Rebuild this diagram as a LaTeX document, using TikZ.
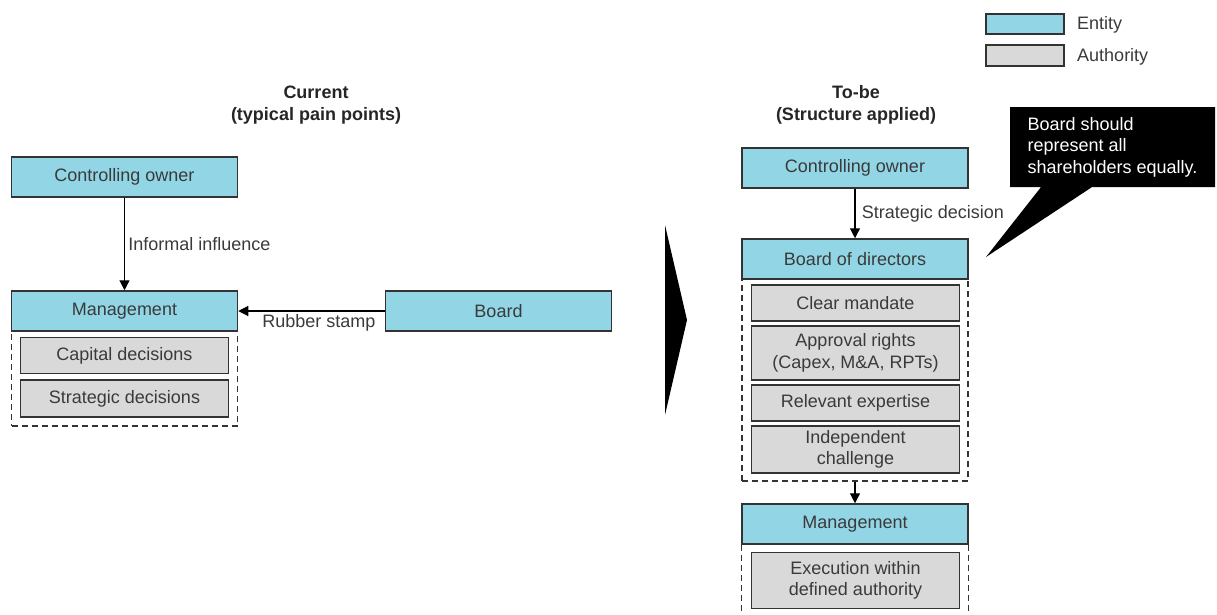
\documentclass[tikz,border=0pt]{standalone}
\usepackage{fontspec}
\setmainfont{Liberation Sans}
\usetikzlibrary{arrows.meta,positioning,shapes.callouts}
\definecolor{entityblue}{HTML}{92D6E6}
\definecolor{authgray}{HTML}{D9D9D9}
\definecolor{boxline}{HTML}{333333}
\definecolor{labelgray}{HTML}{3A3A3A}
\newcommand{\diagfont}{\fontsize{18}{21.5}\selectfont}

\begin{document}
\begin{tikzpicture}[x=1pt, y=-1pt, node distance=1cm, auto,
  font=\diagfont, text=labelgray,
  entity/.style={rectangle, draw=boxline, line width=1.5pt, fill=entityblue, minimum width=226pt, minimum height=40pt, inner sep=0pt},
  authority/.style={rectangle, draw=boxline, line width=1.5pt, fill=authgray, minimum width=208pt, align=center, inner sep=0pt},
  dashbox/.style={draw=boxline, line width=1.2pt, dash pattern=on 6pt off 4pt},
  group/.style={rectangle, dashbox, minimum width=226pt, inner sep=0pt},
  flow/.style={-{Triangle[length=10pt,width=10pt]}, line width=1.2pt, draw=black},
  title/.style={align=center, font=\diagfont\bfseries, text=black!85},
  ]
  \useasboundingbox (0,0) rectangle (1217,614);

  %legend
  \node at (1025, 24) [entity, minimum width=78pt, minimum height=20pt] (legentity) {};
  \node at (1025, 55.5) [authority, minimum width=78pt, minimum height=21pt] (legauth) {};
  \node at (1077, 25) [anchor=west, inner sep=0pt] (legentitytext) {Entity};
  \node at (1077, 57) [anchor=west, inner sep=0pt] (legauthtext) {Authority};

  %current
  \node at (316, 105) [title] (curtitle) {Current\\(typical pain points)};
  \node at (124.5, 378.5) [group, minimum height=95pt] (curgroup) {};
  \node at (124.5, 177) [entity] (curowner) {Controlling owner};
  \node at (124.5, 311) [entity] (curmgmt) {Management};
  \node at (124.5, 355.5) [authority, minimum height=36pt] (capital) {Capital decisions};
  \node at (124.5, 398.5) [authority, minimum height=37pt] (strategic) {Strategic decisions};
  \node at (498.5, 311) [entity] (curboard) {Board};

  \path[flow] (curowner) edge node {Informal influence} (curmgmt);
  \path[flow] (curboard) edge node[pos=0.45] {Rubber stamp} (curmgmt);

  %chevron
  \fill[black] (665,225) -- (687,320) -- (665,415) -- cycle;

  %to-be
  \node at (856, 105) [title] (newtitle) {To-be\\(Structure applied)};
  \node at (855, 380) [group, minimum height=202pt] (dirgroup) {};
  \node at (855, 168) [entity] (newowner) {Controlling owner};
  \node at (855, 259) [entity] (directors) {Board of directors};
  \node at (855.5, 303) [authority, minimum height=36pt] (mandate) {Clear mandate};
  \node at (855.5, 353) [authority, minimum height=54pt] (approval) {Approval rights\\(Capex, M\&A, RPTs)};
  \node at (855.5, 403) [authority, minimum height=36pt] (expertise) {Relevant expertise};
  \node at (855.5, 449.5) [authority, minimum height=47pt] (challenge) {Independent\\challenge};
  \node at (855, 524) [entity] (newmgmt) {Management};
  \draw[dashbox] (newmgmt.south west) -- ++(0, 75) (newmgmt.south east) -- ++(0, 75);
  \node at (855.5, 580.5) [authority, minimum height=56pt] (execution) {Execution within\\defined authority};

  \path[flow] (newowner) edge node[xshift=3pt] {Strategic decision} (directors);
  \path[flow] (dirgroup) edge (newmgmt);

  %callout
  \coordinate (calltip) at (986, 257);
  \node at (1112.5, 147) [rectangle callout, callout absolute pointer={(calltip)}, callout pointer width=51pt, fill=black, text=white, align=left, minimum width=205pt, minimum height=80pt, inner sep=0pt] (callout) {Board should\\represent all\\shareholders equally.};
\end{tikzpicture}
\end{document}
